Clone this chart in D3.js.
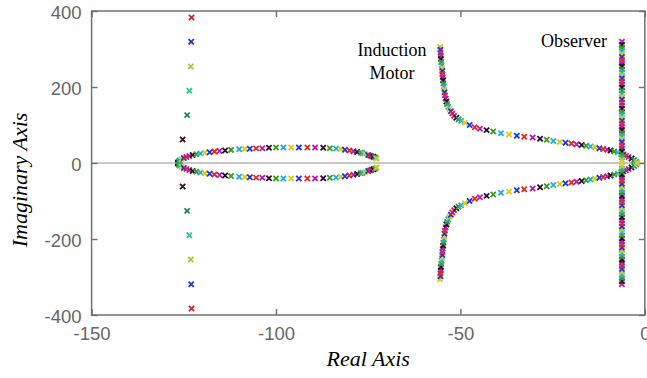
<!DOCTYPE html>
<html>
<head>
<meta charset="utf-8">
<script src="https://cdn.jsdelivr.net/npm/d3@7"></script>
<style>
  body { margin: 0; background: #fff; }
  svg { display: block; }
</style>
</head>
<body>
<div id="chart"></div>
<script>
// poles are conjugate pairs: only the upper half (re, im >= 0) is listed, each is drawn at +im and -im
const xTicks = [-150, -100, -50, 0];
const yTicks = [-400, -200, 0, 200, 400];

const farPoles = [[-122.9, 383], [-123.0, 319], [-123.1, 254], [-123.5, 190], [-124.1, 126], [-125.3, 62]];
const farColors = ['#e0201c', '#1a36e0', '#a8c83a', '#26c4a0', '#129048', '#3a0e1c'];

const loopPoles = [
  [-126.6, 1], [-126.4, 4], [-126.1, 7], [-125.6, 10], [-125.0, 13], [-124.3, 16], [-123.5, 18.5],
  [-122.6, 21], [-121.6, 23], [-120.5, 25], [-119.3, 27], [-118.0, 28.5], [-116.7, 30], [-115.3, 31.5],
  [-113.8, 33], [-112.2, 34.5], [-110.0, 36], [-108.4, 37], [-107.1, 37.5], [-105.4, 38.5], [-103.7, 39],
  [-101.9, 40], [-100.0, 40.5], [-98.0, 41], [-95.9, 41], [-93.8, 41], [-91.5, 41], [-89.4, 40.5],
  [-87.2, 40], [-85.4, 39], [-83.7, 38], [-82.4, 36.5], [-81.3, 35], [-80.1, 33], [-79.0, 31],
  [-78.0, 29], [-77.0, 27], [-76.5, 25.5], [-75.9, 24], [-75.0, 21], [-74.5, 19.5], [-74.1, 18],
  [-73.6, 16.5], [-73.2, 15], [-72.9, 13.5], [-72.7, 12]
];

const motorPoles = [
  [-55.5, 306], [-55.4, 298], [-55.4, 290], [-55.3, 282], [-55.3, 274], [-55.2, 266], [-55.1, 258],
  [-55.0, 250], [-54.9, 242], [-54.9, 234], [-54.8, 226], [-54.7, 218], [-54.6, 210], [-54.5, 202],
  [-54.4, 194], [-54.3, 186], [-54.2, 178], [-54.0, 170], [-53.8, 162], [-53.6, 155], [-53.3, 148],
  [-53.0, 142], [-52.6, 136], [-52.2, 130], [-51.7, 124], [-51.1, 119], [-50.5, 115], [-49.8, 111],
  [-48.8, 106], [-47.5, 100], [-46.1, 94], [-44.7, 90], [-42.9, 86.5], [-41.1, 83], [-39.0, 78.5],
  [-36.8, 75], [-34.7, 71.5], [-32.7, 69], [-30.4, 67], [-28.4, 64], [-26.6, 61], [-24.8, 58],
  [-23.0, 55.5], [-21.5, 53.5], [-19.9, 51.5], [-18.5, 49.5], [-17.1, 47.5], [-15.9, 45.5],
  [-14.7, 43.5], [-13.5, 41.5], [-12.3, 39], [-11.3, 37], [-10.2, 35], [-9.3, 33], [-8.3, 30.5],
  [-7.3, 28], [-6.5, 25], [-5.8, 22], [-5.1, 19], [-4.4, 16], [-3.6, 12], [-2.9, 8], [-2.3, 4], [-2.0, 1]
];

const observerPoles = [
  [-6.2, 319], [-6.2, 311], [-6.2, 303], [-6.2, 295], [-6.2, 287], [-6.2, 279], [-6.2, 271],
  [-6.2, 263], [-6.2, 255], [-6.2, 247], [-6.2, 239], [-6.2, 231], [-6.2, 223], [-6.2, 215],
  [-6.2, 207], [-6.2, 199], [-6.2, 191], [-6.2, 183], [-6.2, 175], [-6.2, 167], [-6.2, 159],
  [-6.2, 151], [-6.2, 143], [-6.2, 135], [-6.2, 127], [-6.2, 119], [-6.2, 111], [-6.2, 103],
  [-6.2, 95], [-6.2, 87], [-6.2, 79], [-6.2, 71], [-6.2, 63], [-6.2, 55], [-6.2, 47],
  [-6.2, 39], [-6.2, 31], [-6.2, 23], [-6.2, 15], [-6.2, 8]
];

const cycleColors = ['#2a0a28', '#3c9a18', '#18b0e0', '#d8cc10', '#1434ec', '#e8261c', '#b21cb0'];

const width = 647;
const height = 378;
const plotLeft = 91.6, plotRight = 644.8, plotTop = 11, plotBottom = 315;

const x = d3.scaleLinear().domain([-150, 0]).range([plotLeft, plotRight]);
const y = d3.scaleLinear().domain([-400, 400]).range([plotBottom, plotTop]);

const svg = d3.select('#chart')
  .append('svg')
  .attr('width', width)
  .attr('height', height);

// zero line
svg.append('line')
  .attr('x1', plotLeft).attr('x2', plotRight)
  .attr('y1', y(0)).attr('y2', y(0))
  .attr('stroke', '#c8c8c8')
  .attr('stroke-width', 2);

const plainNum = d => String(d);

const xAxis = svg.append('g')
  .attr('transform', `translate(0,${plotBottom})`)
  .call(d3.axisBottom(x).tickValues(xTicks).tickSize(-6).tickPadding(12).tickFormat(plainNum));
const xAxisTop = svg.append('g')
  .attr('transform', `translate(0,${plotTop})`)
  .call(d3.axisTop(x).tickValues(xTicks).tickSize(-6).tickFormat(''));
const yAxis = svg.append('g')
  .attr('transform', `translate(${plotLeft},0)`)
  .call(d3.axisLeft(y).tickValues(yTicks).tickSize(-6).tickPadding(10).tickFormat(plainNum));
const yAxisRight = svg.append('g')
  .attr('transform', `translate(${plotRight},0)`)
  .call(d3.axisRight(y).tickValues(yTicks).tickSize(-6).tickFormat(''));

[xAxis, xAxisTop, yAxis, yAxisRight].forEach(g => {
  g.select('.domain').remove();
  g.selectAll('.tick line').attr('stroke', '#707070').attr('stroke-width', 1.4);
  g.selectAll('.tick text')
    .attr('fill', '#666')
    .attr('font-family', 'Liberation Sans, Arial, sans-serif')
    .attr('font-size', '18.5px');
});
yAxis.selectAll('.tick text').attr('dy', '0.4em');

svg.append('rect')
  .attr('x', plotLeft).attr('y', plotTop)
  .attr('width', plotRight - plotLeft).attr('height', plotBottom - plotTop)
  .attr('fill', 'none')
  .attr('stroke', '#707070')
  .attr('stroke-width', 1.5);

// 'x' markers
const cross = 'M-2.6,-2.6L2.6,2.6M-2.6,2.6L2.6,-2.6';
const marks = [];
farPoles.forEach((p, i) => marks.push({ re: p[0], im: p[1], color: farColors[i] }));
[loopPoles, motorPoles, observerPoles].forEach((list, k) => {
  list.forEach((p, i) => marks.push({ re: p[0], im: p[1], color: cycleColors[(i + k * 3) % cycleColors.length] }));
});

const points = [];
marks.forEach(m => {
  points.push(m);
  points.push({ re: m.re, im: -m.im, color: m.color });
});

svg.append('g')
  .selectAll('path')
  .data(points)
  .join('path')
  .attr('d', cross)
  .attr('transform', d => `translate(${x(d.re)},${y(d.im)})`)
  .attr('stroke', d => d.color)
  .attr('stroke-width', 1.8)
  .attr('fill', 'none');

// annotations
const serif = 'Liberation Serif, Times New Roman, serif';
svg.append('text')
  .attr('x', 392).attr('y', 56)
  .attr('text-anchor', 'middle')
  .attr('font-family', serif).attr('font-size', '18px')
  .text('Induction');
svg.append('text')
  .attr('x', 392).attr('y', 79)
  .attr('text-anchor', 'middle')
  .attr('font-family', serif).attr('font-size', '18px')
  .text('Motor');
svg.append('text')
  .attr('x', 574).attr('y', 47)
  .attr('text-anchor', 'middle')
  .attr('font-family', serif).attr('font-size', '18px')
  .text('Observer');

svg.append('text')
  .attr('x', (plotLeft + plotRight) / 2).attr('y', 366)
  .attr('text-anchor', 'middle')
  .attr('font-family', serif).attr('font-style', 'italic').attr('font-size', '22px')
  .text('Real Axis');
svg.append('text')
  .attr('transform', 'translate(27,180) rotate(-90)')
  .attr('text-anchor', 'middle')
  .attr('font-family', serif).attr('font-style', 'italic').attr('font-size', '22px')
  .text('Imaginary Axis');
</script>
</body>
</html>
